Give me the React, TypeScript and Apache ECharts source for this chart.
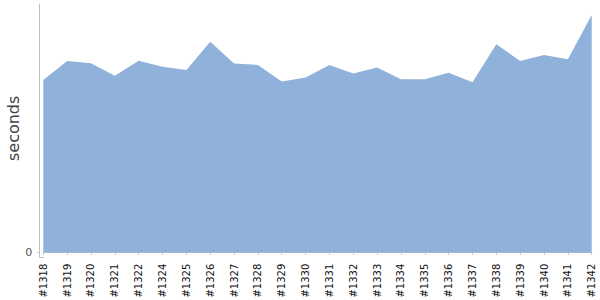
import React, { useEffect, useRef } from "react";
import * as echarts from "echarts";

const builds = [
  "#1318", "#1319", "#1320", "#1321", "#1322", "#1324", "#1325", "#1326",
  "#1327", "#1328", "#1329", "#1330", "#1331", "#1332", "#1333", "#1334",
  "#1335", "#1336", "#1337", "#1338", "#1339", "#1340", "#1341", "#1342",
];

const durations = [
  69.4, 77.1, 76.2, 71.2, 77.2, 74.8, 73.5, 84.8,
  76.1, 75.5, 68.8, 70.4, 75.5, 72.1, 74.5, 69.7,
  69.7, 72.4, 68.5, 83.8, 77.1, 79.5, 77.8, 95.6,
];

const yTicks = [0];

export default function App() {
  const ref = useRef<HTMLDivElement>(null);
  useEffect(() => {
    if (!ref.current) return;
    const chart = echarts.init(ref.current, null, { renderer: "svg" });
    chart.setOption({
      animation: false,
      textStyle: { fontFamily: "DejaVu Sans" },
      grid: {
        left: 43.3,
        right: 8.3,
        top: 4,
        bottom: 47.3,
        containLabel: false,
        outerBoundsMode: "none",
      },
      graphic: [
        {
          type: "polyline",
          silent: true,
          shape: { points: [[39.5, 252], [39.5, 257.5], [44, 257.5]] },
          style: { stroke: "#c0c0c0", lineWidth: 1, fill: null },
        },
      ],
      xAxis: {
        type: "category",
        data: builds,
        boundaryGap: false,
        offset: 4,
        axisLine: { show: true, lineStyle: { color: "#c0c0c0", width: 1 } },
        axisTick: { show: true, length: 2, alignWithLabel: true, interval: 0, lineStyle: { color: "#c0c0c0" } },
        axisLabel: {
          interval: 0,
          rotate: 90,
          fontSize: 10,
          margin: 7,
          color: "#111",
          fontFamily: "DejaVu Sans",
        },
        splitLine: { show: false },
      },
      yAxis: {
        type: "value",
        min: 0,
        max: 100,
        offset: 4,
        name: "seconds",
        nameLocation: "middle",
        nameGap: 18,
        nameMoveOverlap: false,
        nameTextStyle: { fontSize: 16, color: "#444", fontFamily: "DejaVu Sans" },
        axisLine: { show: true, lineStyle: { color: "#c0c0c0", width: 1 } },
        axisTick: { show: true, length: 2, customValues: yTicks, lineStyle: { color: "#c0c0c0" } },
        axisLabel: { customValues: yTicks, fontSize: 11, margin: 7, color: "#555", fontFamily: "DejaVu Sans" },
        splitLine: { show: false },
      },
      series: [
        {
          type: "line",
          data: durations,
          symbol: "none",
          lineStyle: { width: 0, color: "#8fb1da" },
          itemStyle: { color: "#8fb1da" },
          areaStyle: { color: "#8fb1da", opacity: 1 },
        },
      ],
    });
    return () => chart.dispose();
  }, []);
  return <div ref={ref} style={{ width: 600, height: 300, position: "absolute", left: 0, top: 0 }} />;
}
